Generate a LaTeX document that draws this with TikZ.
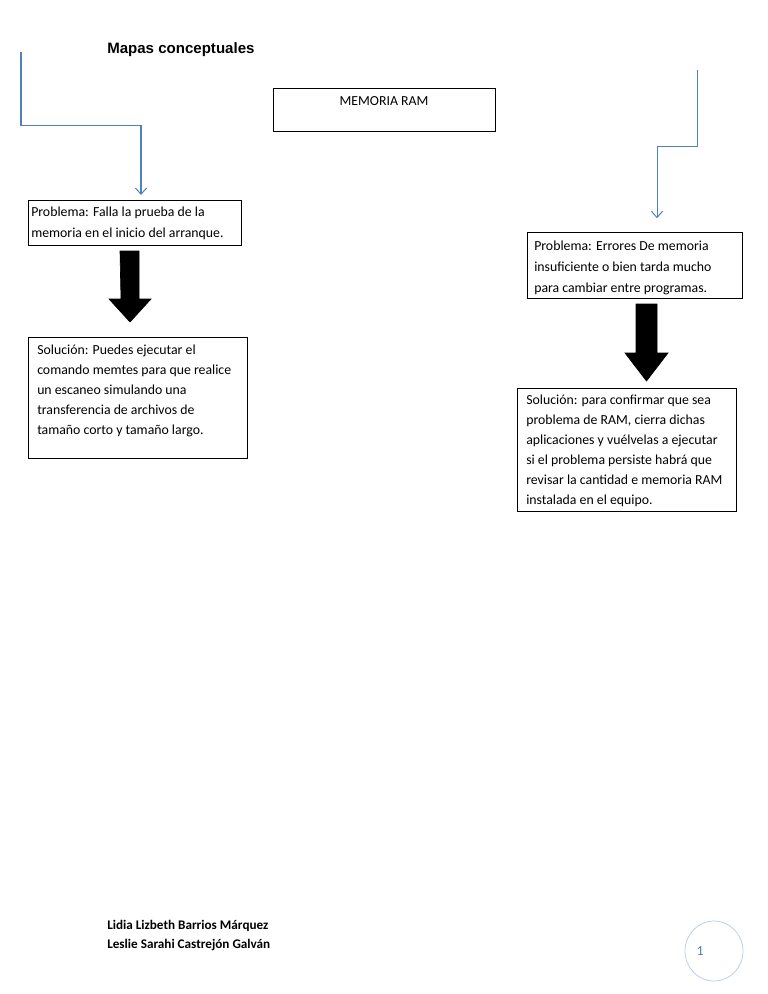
\documentclass[tikz,border=0pt]{standalone}
\usepackage{fontspec}
\setmainfont{Carlito}
\newfontfamily\arialfont{Liberation Sans}
\usetikzlibrary{arrows.meta,calc,shapes.geometric}
\definecolor{wordblue}{RGB}{79,129,189}
\definecolor{circblue}{RGB}{185,205,229}
\begin{document}
\begin{tikzpicture}[x=0.797pt,y=-0.797pt,
  boxframe/.style={draw=black, line width=0.8pt, anchor=north west, inner sep=0pt},
  boxtext/.style={anchor=base west, align=left, inner sep=0pt,
    font=\fontsize{11}{16.7}\selectfont},
  soltext/.style={boxtext, font=\fontsize{11}{15.8}\selectfont},
  flow/.style={draw=wordblue, line width=0.8pt,
    -{Straight Barb[length=5pt,width=9pt,line width=0.8pt]}},
  block/.style={fill=black, draw=black, line width=0.5pt},
  footer/.style={anchor=base west, inner sep=0pt, font=\fontsize{10.5}{15}\selectfont\bfseries}]
\useasboundingbox (0,0) rectangle (768,994);

% title
\node[anchor=west, inner sep=0pt, font=\arialfont\fontsize{12}{14}\selectfont\bfseries] (title) at (107,50) {Mapas conceptuales};

% boxes (text anchors are the baseline of the last line)
\node[boxframe, minimum width={222*0.797pt}, minimum height={43*0.797pt}] (ram) at (273,88) {};
\node[anchor=base, inner sep=0pt, font=\fontsize{11}{14}\selectfont] (ramtxt) at (384,105) {MEMORIA RAM};

\node[boxframe, minimum width={213*0.797pt}, minimum height={45*0.797pt}] (p1) at (28,200) {};
\node[boxtext] (p1txt) at (31,237) {Problema: Falla la prueba de la\\memoria en el inicio del arranque.};

\node[boxframe, minimum width={219*0.797pt}, minimum height={121*0.797pt}] (s1) at (28,337) {};
\node[soltext] (s1txt) at (37,434) {Solución: Puedes ejecutar el\\comando memtes para que realice\\un escaneo simulando una\\transferencia de archivos de\\tamaño corto y tamaño largo.};

\node[boxframe, minimum width={215*0.797pt}, minimum height={66*0.797pt}] (p2) at (527,232) {};
\node[boxtext] (p2txt) at (534,292) {Problema: Errores De memoria\\insuficiente o bien tarda mucho\\para cambiar entre programas.};

\node[boxframe, minimum width={219*0.797pt}, minimum height={123*0.797pt}] (s2) at (517,388) {};
\node[soltext] (s2txt) at (526,504) {Solución: para confirmar que sea\\problema de RAM, cierra dichas\\aplicaciones y vuélvelas a ejecutar\\si el problema persiste habrá que\\revisar la cantidad e memoria RAM\\instalada en el equipo.};

% blue connectors
\coordinate (l0) at (21,52);
\coordinate (l1) at (21,125);
\draw[flow, shorten >=4pt] (l0) -- (l1) -| ($(p1.north west)+(113,0)$);

\coordinate (r0) at (697,70);
\coordinate (r1) at (697,146);
\draw[flow, shorten >=11pt] (r0) -- (r1) -| ($(p2.north west)+(130,0)$);

% black block arrows
\draw[block] ($(p1.south west)+(92,5)$) -- ++(19,0) -- ++(0,48) -- ++(12,0)
  -- ++(-21,23) -- ++(-21,-23) -- ++(12,0) -- cycle;
\draw[block] ($(p2.south west)+(109,5)$) -- ++(21,0) -- ++(0,49) -- ++(11,0)
  -- ++(-21.5,28) -- ++(-21.5,-28) -- ++(11,0) -- cycle;

% footer
\node[footer] (a1) at (107,929) {Lidia Lizbeth Barrios Márquez};
\node[footer] (a2) at (107,948) {Leslie Sarahi Castrejón Galván};

% page number
\node[draw=circblue, line width=0.6pt, ellipse, minimum width={58*0.797pt}, minimum height={60*0.797pt}, inner sep=0pt] (pg) at (714,951) {};
\node[anchor=base, inner sep=0pt, text=wordblue, font=\fontsize{11}{14}\selectfont] (pgnum) at (700,955) {1};
\end{tikzpicture}
\end{document}
